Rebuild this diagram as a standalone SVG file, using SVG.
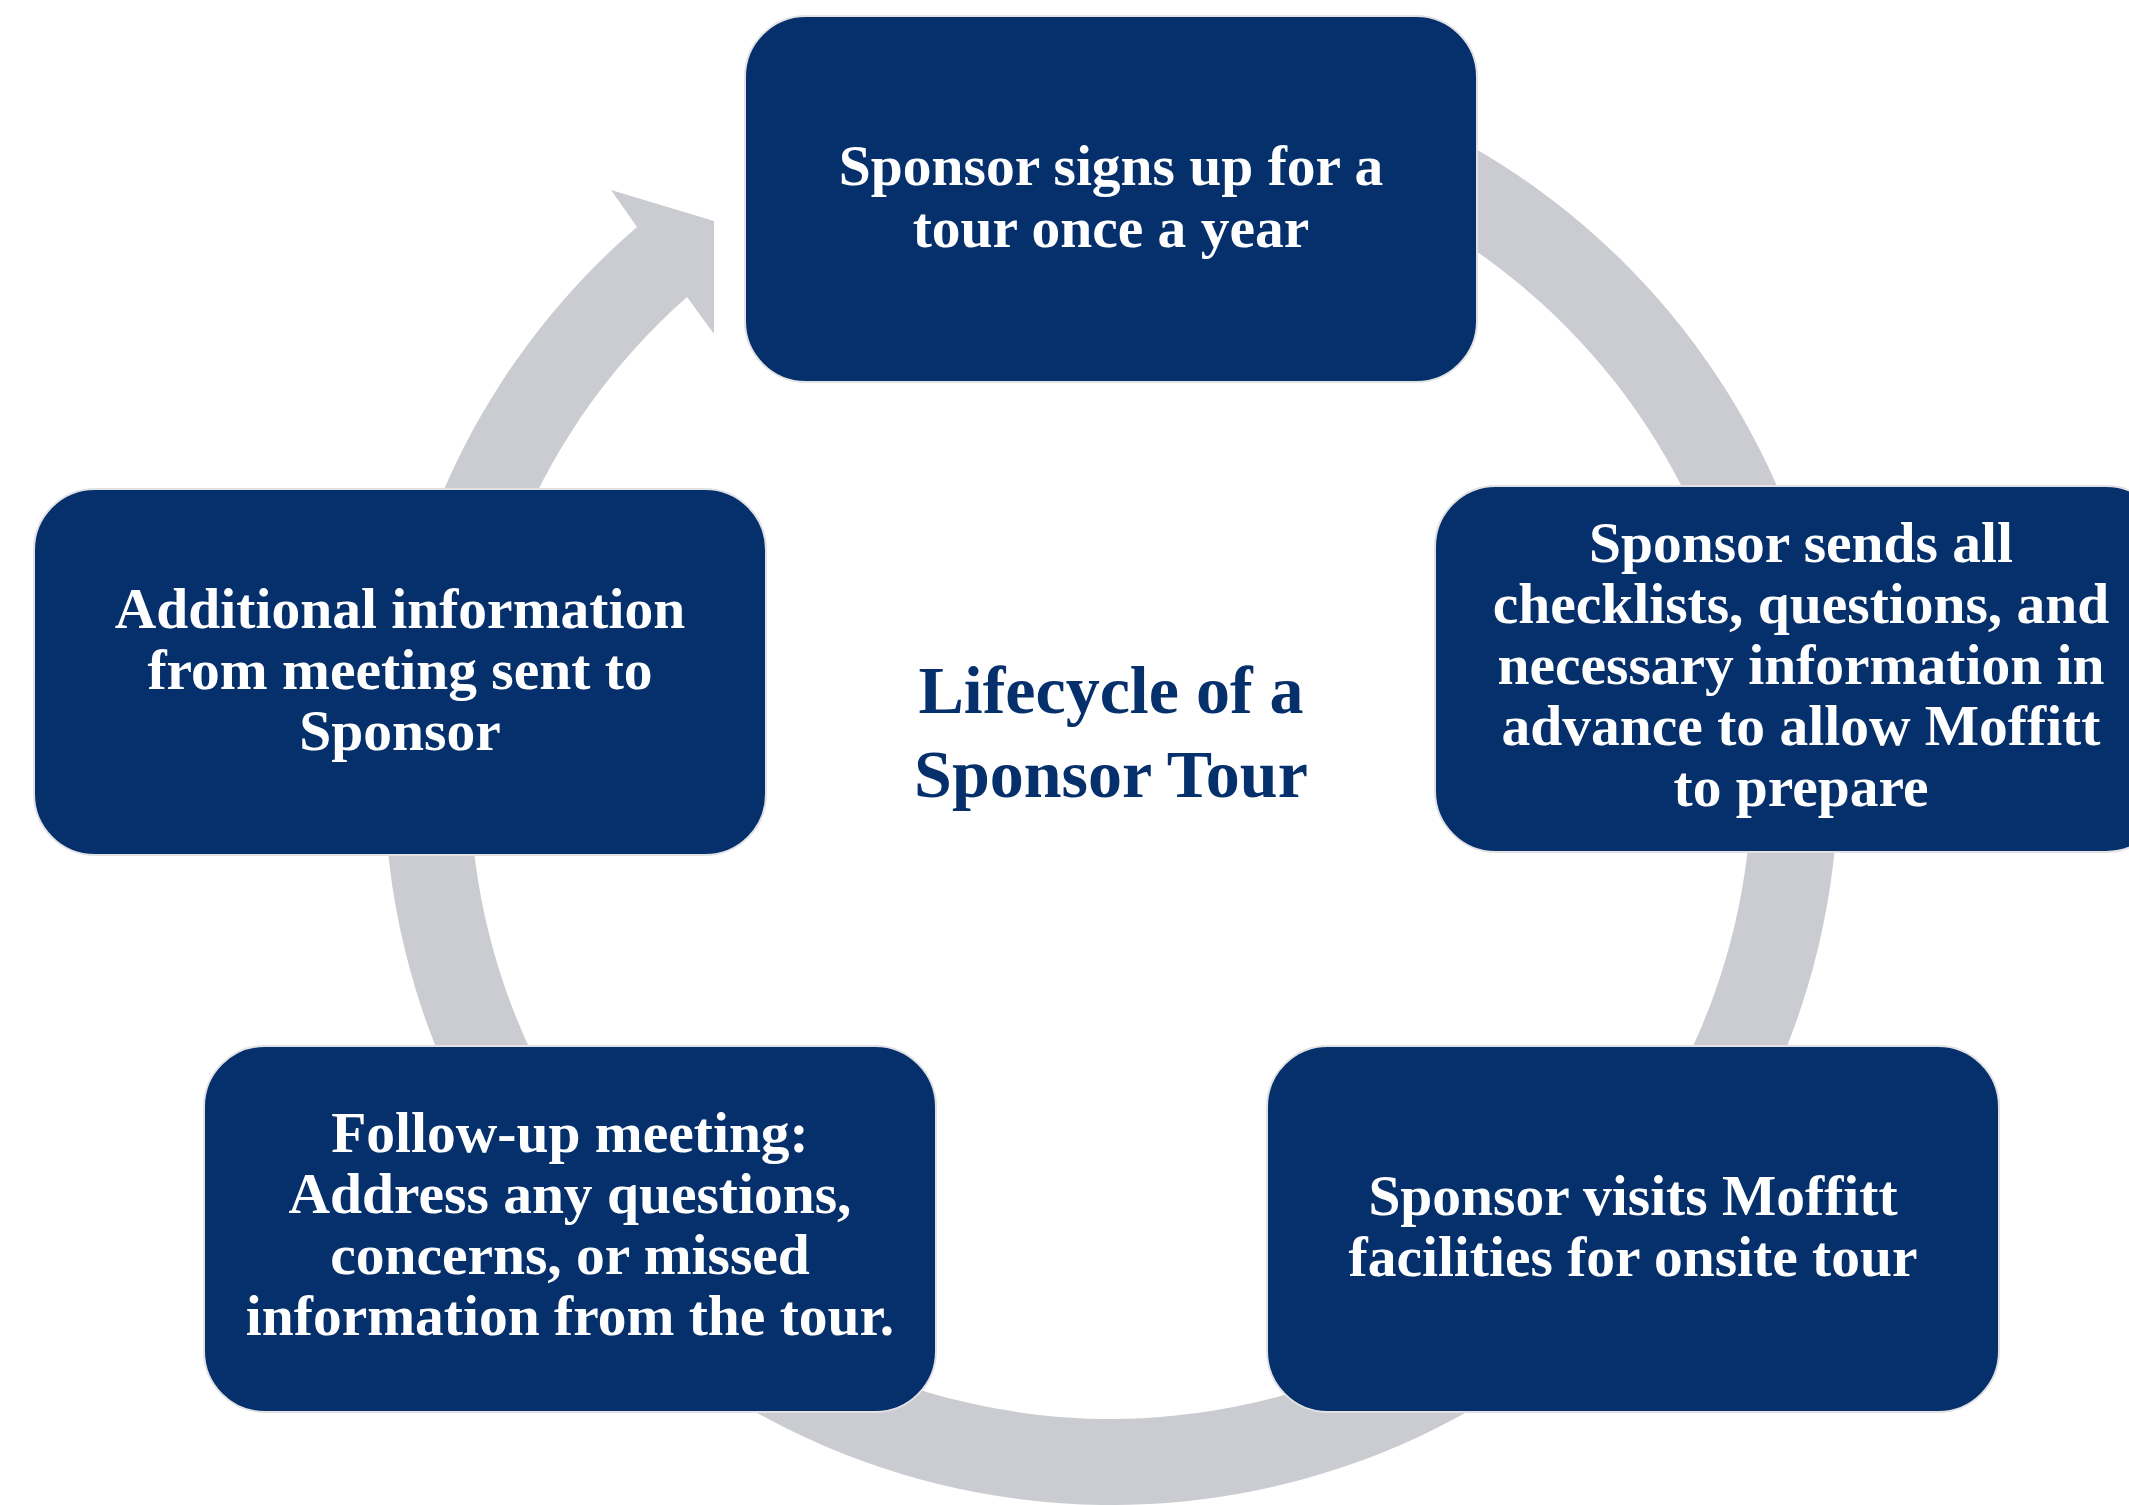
<svg xmlns="http://www.w3.org/2000/svg" width="2129" height="1505" viewBox="0 0 2129 1505">
<style>
.box{fill:#06306B;stroke:#E2E2E4;stroke-width:2}
.t{font-family:"Liberation Serif","Times New Roman",serif;font-weight:bold;font-size:57.5px;fill:#FFFFFF;text-anchor:middle}
.title{font-family:"Liberation Serif","Times New Roman",serif;font-weight:bold;font-size:68px;fill:#06306B;text-anchor:middle}
.ring{fill:#CBCCD1}
</style>
<rect width="2129" height="1505" fill="#FFFFFF"/>
<g id="connectors">
<path class="ring" d="M 1237.2 62 A 727 727 0 1 1 637 227 L 611 190 L 714 221 L 714 334 L 687 297 A 641 641 0 1 0 1222.3 146.7 Z"/>
</g>
<g id="center-title">
<text class="title" x="1111" y="713">Lifecycle of a</text>
<text class="title" x="1111" y="797">Sponsor Tour</text>
</g>
<g id="node-signup">
<rect class="box" x="745" y="16" width="732" height="366" rx="61" ry="61"/>
<text class="t" x="1111" y="185">Sponsor signs up for a</text>
<text class="t" x="1111" y="247">tour once a year</text>
</g>
<g id="node-sends">
<rect class="box" x="1435" y="486" width="732" height="366" rx="61" ry="61"/>
<text class="t" x="1801" y="562">Sponsor sends all</text>
<text class="t" x="1801" y="623">checklists, questions, and</text>
<text class="t" x="1801" y="684">necessary information in</text>
<text class="t" x="1801" y="745">advance to allow Moffitt</text>
<text class="t" x="1801" y="806">to prepare</text>
</g>
<g id="node-visits">
<rect class="box" x="1267" y="1046" width="732" height="366" rx="61" ry="61"/>
<text class="t" x="1633" y="1215">Sponsor visits Moffitt</text>
<text class="t" x="1633" y="1276">facilities for onsite tour</text>
</g>
<g id="node-followup">
<rect class="box" x="204" y="1046" width="732" height="366" rx="61" ry="61"/>
<text class="t" x="570" y="1152">Follow-up meeting:</text>
<text class="t" x="570" y="1213">Address any questions,</text>
<text class="t" x="570" y="1274">concerns, or missed</text>
<text class="t" x="570" y="1335">information from the tour.</text>
</g>
<g id="node-additional">
<rect class="box" x="34" y="489" width="732" height="366" rx="61" ry="61"/>
<text class="t" x="400" y="628">Additional information</text>
<text class="t" x="400" y="689">from meeting sent to</text>
<text class="t" x="400" y="750">Sponsor</text>
</g>
</svg>
